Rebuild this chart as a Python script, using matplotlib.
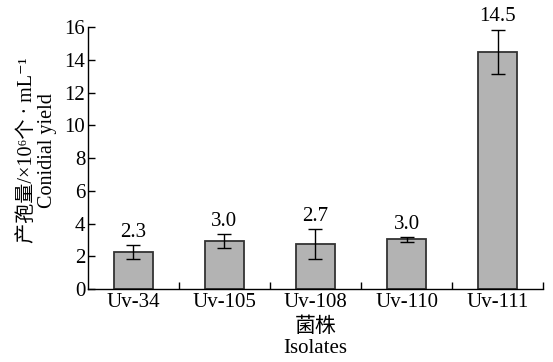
import matplotlib
matplotlib.use("Agg")
import matplotlib.pyplot as plt
from matplotlib.ticker import FixedLocator

isolates = ["Uv-34", "Uv-105", "Uv-108", "Uv-110", "Uv-111"]
yields = [2.25, 2.95, 2.75, 3.03, 14.5]
errors = [0.41, 0.42, 0.92, 0.14, 1.35]
labels = ["2.3", "3.0", "2.7", "3.0", "14.5"]

fam = ["Liberation Serif", "Noto Sans CJK SC", "DejaVu Serif"]
plt.rcParams["font.family"] = fam

fig = plt.figure(figsize=(5.53, 3.62), dpi=100)
ax = fig.add_axes([0.159, 0.2017, 0.823, 0.7233])

x = list(range(len(isolates)))
ax.bar(x, yields, width=0.42, color="#b3b3b3", edgecolor="#333333", linewidth=1.3, zorder=2)
ax.errorbar(x, yields, yerr=errors, fmt="none", ecolor="black", elinewidth=1.0,
            capsize=5, capthick=1.0, zorder=3)
for xi, v, e, t in zip(x, yields, errors, labels):
    ax.text(xi, v + e + 0.2, t, ha="center", va="bottom", fontsize=15)

ax.set_xlim(-0.5, 4.5)
ax.set_ylim(0, 16)
ax.set_yticks(range(0, 17, 2))
ax.set_xticks(x)
ax.set_xticklabels(isolates)
ax.xaxis.set_minor_locator(FixedLocator([i + 0.5 for i in x]))
ax.tick_params(axis="x", which="major", length=0, labelsize=15, pad=3)
ax.tick_params(axis="x", which="minor", direction="in", length=5, width=1)
ax.tick_params(axis="y", direction="in", length=5, width=1, labelsize=15, pad=2)

for s in ["top", "right"]:
    ax.spines[s].set_visible(False)
for s in ["left", "bottom"]:
    ax.spines[s].set_linewidth(1.0)

ax.set_ylabel("产孢量/×10⁶个 · mL⁻¹\nConidial yield", fontsize=14.5,
              linespacing=1.1)
ax.yaxis.set_label_coords(-0.068, 0.53)
ax.set_xlabel("菌株\nIsolates", fontsize=15, linespacing=1.15, labelpad=4)

fig.savefig("out.png", dpi=100)
